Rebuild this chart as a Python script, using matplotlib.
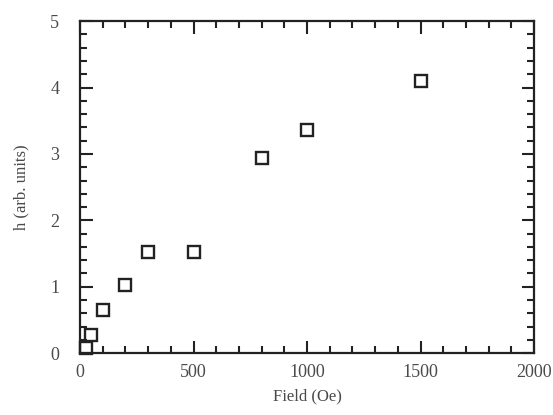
import matplotlib
matplotlib.use("Agg")
import matplotlib.pyplot as plt
from matplotlib.ticker import MultipleLocator

field = [25, 50, 100, 200, 300, 500, 800, 1000, 1500]
h_vals = [0.08, 0.27, 0.65, 1.02, 1.52, 1.52, 2.94, 3.36, 4.10]
x_ticks = [0, 500, 1000, 1500, 2000]
y_ticks = [0, 1, 2, 3, 4, 5]

plt.rcParams['font.family'] = ['Liberation Serif', 'DejaVu Serif']
txt = '#4a4a4a'
fig = plt.figure(figsize=(5.53, 4.15), dpi=100)
ax = fig.add_axes([0.1447, 0.149, 0.821, 0.80])
ax.plot(field, h_vals, linestyle='none', marker='s', markersize=8.5,
        markerfacecolor='none', markeredgecolor='#222222', markeredgewidth=1.7,
        clip_on=False, zorder=3)
ax.set_xlim(0, 2000)
ax.set_ylim(0, 5)
ax.set_xticks(x_ticks)
ax.set_yticks(y_ticks)
ax.xaxis.set_minor_locator(MultipleLocator(100))
ax.yaxis.set_minor_locator(MultipleLocator(0.2))
for s in ax.spines.values():
    s.set_linewidth(1.6)
    s.set_color('#222222')
ax.tick_params(which='both', direction='in', top=True, right=True, color='#222222', width=1.5)
ax.tick_params(which='major', length=9)
ax.tick_params(which='minor', length=5)
ax.tick_params(axis='x', which='major', pad=8, labelsize=13, labelcolor=txt)
ax.tick_params(axis='y', which='major', pad=15, labelsize=13, labelcolor=txt)
ax.set_xlabel('Field (Oe)', fontsize=12, color=txt, labelpad=5)
ax.set_ylabel('h (arb. units)', fontsize=12, color=txt, labelpad=15)
fig.savefig('out.png', dpi=100)
